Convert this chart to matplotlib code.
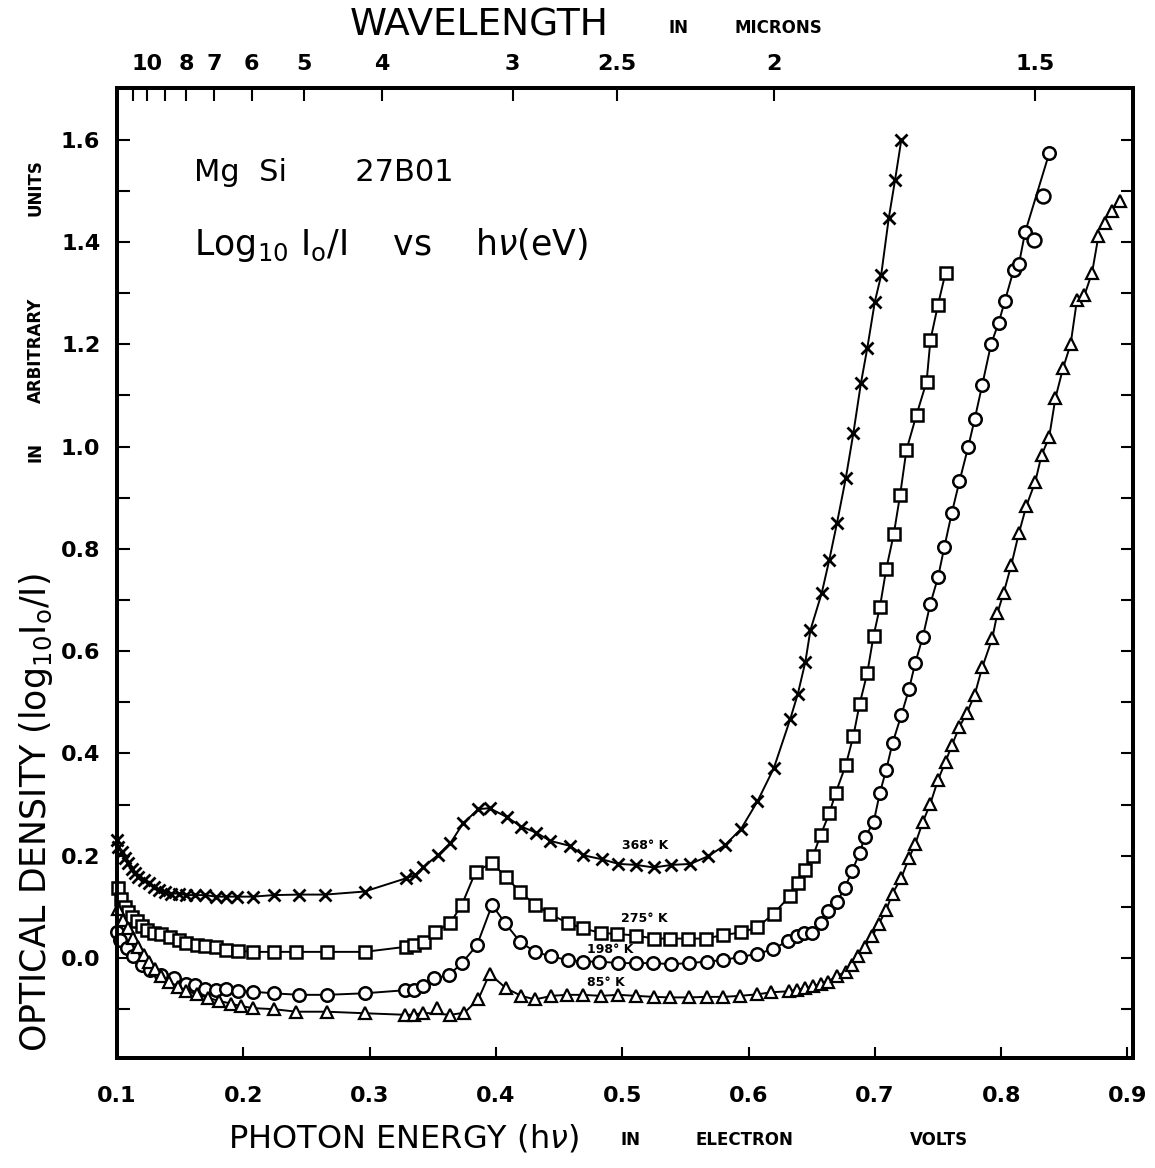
import matplotlib
matplotlib.use("Agg")
import matplotlib.pyplot as plt
import numpy as np

plt.rcParams['font.family'] = ['DejaVu Sans']
plt.rcParams['mathtext.fontset'] = 'dejavusans'

# ---------------- data (photon energy in eV, optical density) ----------------
e368 = [0.100,0.101,0.104,0.106,0.109,0.112,0.114,0.117,0.121,0.125,0.129,0.133,0.138,0.143,0.149,
        0.155,0.162,0.170,0.178,0.186,0.195,0.208,0.224,0.244,0.265,0.296,0.329,0.336,0.342,0.354,
        0.364,0.374,0.386,0.395,0.409,0.420,0.432,0.443,0.459,0.469,0.484,0.497,0.511,0.525,0.539,
        0.554,0.568,0.581,0.594,0.607,0.620,0.633,0.639,0.645,0.649,0.658,0.664,0.670,0.677,0.683,
        0.689,0.694,0.700,0.705,0.711,0.716,0.721]
od368 = [0.231,0.218,0.208,0.195,0.185,0.175,0.166,0.159,0.152,0.146,0.139,0.133,0.130,0.126,0.126,
         0.123,0.123,0.123,0.120,0.120,0.120,0.120,0.123,0.124,0.124,0.130,0.156,0.162,0.177,0.201,
         0.225,0.263,0.291,0.293,0.275,0.257,0.245,0.229,0.219,0.201,0.193,0.184,0.182,0.177,0.182,
         0.184,0.199,0.220,0.252,0.306,0.371,0.467,0.516,0.579,0.641,0.714,0.779,0.850,0.938,1.026,
         1.124,1.192,1.283,1.335,1.446,1.521,1.600]

e275 = [0.101,0.103,0.106,0.109,0.112,0.116,0.120,0.124,0.129,0.135,0.142,0.149,0.155,0.163,0.170,
        0.178,0.186,0.196,0.208,0.224,0.242,0.266,0.296,0.329,0.335,0.343,0.352,0.364,0.373,0.384,
        0.397,0.408,0.419,0.431,0.443,0.457,0.469,0.483,0.496,0.511,0.525,0.538,0.552,0.566,0.580,
        0.594,0.607,0.620,0.633,0.639,0.645,0.651,0.657,0.664,0.669,0.677,0.683,0.688,0.694,0.699,
        0.704,0.709,0.715,0.720,0.725,0.733,0.741,0.744,0.750,0.756]
od275 = [0.136,0.115,0.100,0.090,0.080,0.072,0.062,0.055,0.048,0.047,0.042,0.035,0.029,0.025,0.023,
         0.022,0.016,0.014,0.012,0.012,0.012,0.012,0.012,0.022,0.025,0.032,0.051,0.069,0.104,0.169,
         0.186,0.158,0.130,0.104,0.086,0.068,0.058,0.049,0.047,0.044,0.038,0.038,0.038,0.038,0.045,
         0.050,0.060,0.087,0.122,0.147,0.172,0.199,0.240,0.283,0.323,0.377,0.434,0.497,0.557,0.630,
         0.686,0.760,0.829,0.905,0.993,1.062,1.127,1.208,1.277,1.340]

e198 = [0.100,0.102,0.108,0.113,0.120,0.126,0.135,0.145,0.155,0.162,0.170,0.178,0.186,0.196,0.208,
        0.224,0.244,0.266,0.296,0.328,0.335,0.342,0.351,0.363,0.373,0.385,0.397,0.407,0.419,0.431,
        0.444,0.457,0.469,0.482,0.497,0.511,0.524,0.539,0.553,0.567,0.580,0.593,0.607,0.619,0.631,
        0.638,0.644,0.650,0.657,0.663,0.670,0.676,0.682,0.688,0.692,0.699,0.704,0.709,0.714,0.721,
        0.727,0.732,0.738,0.744,0.750,0.755,0.761,0.767,0.774,0.779,0.785,0.792,0.798,0.803,0.810,
        0.814,0.819,0.838]
od198 = [0.050,0.035,0.019,0.003,-0.014,-0.023,-0.033,-0.040,-0.050,-0.053,-0.060,-0.063,-0.061,-0.064,-0.066,
         -0.069,-0.072,-0.072,-0.069,-0.063,-0.063,-0.055,-0.040,-0.033,-0.010,0.025,0.104,0.069,0.032,0.012,
         0.003,-0.004,-0.007,-0.007,-0.010,-0.010,-0.010,-0.012,-0.010,-0.007,-0.004,0.002,0.008,0.017,0.033,
         0.044,0.048,0.049,0.068,0.091,0.110,0.136,0.170,0.206,0.236,0.265,0.323,0.368,0.420,0.475,
         0.525,0.577,0.628,0.693,0.744,0.803,0.871,0.932,1.000,1.053,1.120,1.200,1.242,1.285,1.346,
         1.356,1.419,1.573]
e198_off = [0.826, 0.833]
od198_off = [1.404, 1.490]

e85 = [0.101,0.105,0.109,0.113,0.117,0.121,0.125,0.130,0.135,0.141,0.148,0.155,0.163,0.172,0.181,
       0.190,0.198,0.208,0.224,0.242,0.266,0.296,0.328,0.335,0.342,0.364,0.375,0.386,0.395,0.408,
       0.420,0.431,0.444,0.456,0.469,0.483,0.497,0.511,0.525,0.538,0.553,0.567,0.580,0.593,0.607,
       0.618,0.632,0.638,0.645,0.651,0.657,0.663,0.670,0.677,0.682,0.687,0.692,0.698,0.703,0.709,
       0.714,0.721,0.727,0.732,0.738,0.744,0.750,0.756,0.761,0.767,0.773,0.779,0.785,0.793,0.797,
       0.802,0.808,0.814,0.820,0.827,0.832,0.838,0.843,0.849,0.855,0.860,0.866,0.872,0.877]
od85 = [0.095,0.075,0.058,0.040,0.022,0.006,-0.008,-0.022,-0.035,-0.047,-0.057,-0.064,-0.071,-0.078,-0.084,
        -0.089,-0.094,-0.098,-0.100,-0.105,-0.105,-0.108,-0.111,-0.111,-0.107,-0.111,-0.107,-0.081,-0.031,-0.059,
        -0.074,-0.081,-0.074,-0.072,-0.072,-0.074,-0.072,-0.074,-0.076,-0.077,-0.077,-0.076,-0.076,-0.074,-0.071,
        -0.067,-0.065,-0.062,-0.059,-0.055,-0.051,-0.046,-0.035,-0.027,-0.014,0.003,0.022,0.043,0.066,0.094,
        0.126,0.157,0.195,0.223,0.266,0.302,0.348,0.384,0.416,0.452,0.480,0.514,0.568,0.625,0.674,
        0.714,0.768,0.830,0.884,0.931,0.983,1.018,1.095,1.153,1.200,1.286,1.296,1.340,1.411]
e85_off = [0.353, 0.882, 0.888, 0.894]
od85_off = [-0.098, 1.437, 1.460, 1.481]

energy_ticks = [0.1, 0.2, 0.3, 0.4, 0.5, 0.6, 0.7, 0.8, 0.9]
energy_labels = ["0.1", "0.2", "0.3", "0.4", "0.5", "0.6", "0.7", "0.8", "0.9"]
od_ticks = [0.0, 0.2, 0.4, 0.6, 0.8, 1.0, 1.2, 1.4, 1.6]
od_labels = ["0.0", "0.2", "0.4", "0.6", "0.8", "1.0", "1.2", "1.4", "1.6"]
wavelengths = [11, 10, 9, 8, 7, 6, 5, 4, 3, 2.5, 2, 1.5]
wl_labels = ["", "10", "", "8", "7", "6", "5", "4", "3", "2.5", "2", "1.5"]
HC = 1.2398  # eV * micron

series_labels = ["368° K", "275° K", "198° K", "85° K"]

# ---------------- figure ----------------
W, H = 1155, 1168
fig = plt.figure(figsize=(W / 100, H / 100), dpi=100)
ax = fig.add_axes([117 / W, 1 - 1058 / H, (1133 - 117) / W, (1058 - 88) / H])
ax.set_xlim(0.1, 0.9044)
ax.set_ylim(-0.1955, 1.701)

lw = 1.4
ax.plot(e368, od368, '-', color='black', lw=lw, marker='x', ms=9, mew=2.0, clip_on=False, zorder=3)
ax.plot(e275, od275, '-', color='black', lw=lw, marker='s', ms=8, mew=1.8, mfc='white', clip_on=False, zorder=3)
ax.plot(e198, od198, '-', color='black', lw=lw, marker='o', ms=9, mew=1.8, mfc='white', clip_on=False, zorder=3)
ax.plot(e198_off, od198_off, 'o', color='black', ms=10, mew=1.8, mfc='white', clip_on=False, zorder=3)
ax.plot(e85, od85, '-', color='black', lw=lw, marker='^', ms=8, mew=1.6, mfc='white', clip_on=False, zorder=3)
ax.plot(e85_off, od85_off, '^', color='black', ms=8, mew=1.6, mfc='white', clip_on=False, zorder=3)

# temperature labels
lab_pos = [(0.500, 0.219), (0.499, 0.078), (0.472, 0.016), (0.472, -0.047)]
for (x, y), t in zip(lab_pos, series_labels):
    ax.text(x, y, t, fontsize=9, fontweight='bold', ha='left', va='center')

# axes styling
for s in ax.spines.values():
    s.set_linewidth(2.8)
ax.set_xticks(energy_ticks)
ax.set_xticklabels(energy_labels)
ax.set_yticks(od_ticks)
ax.set_yticklabels(od_labels)
ax.set_yticks(np.arange(-0.1, 1.65, 0.1), minor=True)
ax.tick_params(axis='both', which='both', direction='in', width=1.5, labelsize=16)
ax.tick_params(axis='x', which='major', length=8, pad=20)
ax.tick_params(axis='y', which='major', length=9, pad=12, right=True)
ax.tick_params(axis='y', which='minor', length=9, right=True)
for lab in ax.get_xticklabels() + ax.get_yticklabels():
    lab.set_fontweight('bold')

# top wavelength axis
ax2 = ax.twiny()
ax2.set_xlim(ax.get_xlim())
ax2.set_xticks([HC / w for w in wavelengths])
ax2.set_xticklabels(wl_labels)
ax2.tick_params(axis='x', direction='in', length=9, width=1.5, labelsize=16, pad=10)
for lab in ax2.get_xticklabels():
    lab.set_fontweight('bold')
for s in ax2.spines.values():
    s.set_linewidth(2.8)

# annotation text in plot
ax.text(0.161, 1.535, "Mg  Si       27B01", fontsize=22, ha='left', va='center')
ax.text(0.161, 1.395, r"Log$_{10}$ I$_{\mathrm{o}}$/I    vs    h$\nu$(eV)", fontsize=25,
        ha='left', va='center')

# axis titles composed of large and small lettering
def fx(px):
    return px / W

def fy(py):
    return 1 - py / H

small = dict(fontsize=12, fontweight='bold')

fig.text(fx(350), fy(26), "WAVELENGTH", ha='left', va='center', fontsize=27)
fig.text(fx(668), fy(28), "IN", ha='left', va='center', **small)
fig.text(fx(735), fy(28), "MICRONS", ha='left', va='center', **small)

fig.text(fx(228), fy(1138), r"PHOTON ENERGY (h$\nu$)", ha='left', va='center', fontsize=23)
fig.text(fx(620), fy(1140), "IN", ha='left', va='center', **small)
fig.text(fx(695), fy(1140), "ELECTRON", ha='left', va='center', **small)
fig.text(fx(910), fy(1140), "VOLTS", ha='left', va='center', **small)

fig.text(fx(36), fy(1052), r"OPTICAL DENSITY (log$_{10}$I$_{\mathrm{o}}$/I)",
         rotation=90, ha='center', va='bottom', fontsize=25)
fig.text(fx(36), fy(452), "IN", rotation=90, ha='center', va='center', **small)
fig.text(fx(36), fy(350), "ARBITRARY", rotation=90, ha='center', va='center', **small)
fig.text(fx(36), fy(188), "UNITS", rotation=90, ha='center', va='center', **small)

fig.savefig("out.png", dpi=100, facecolor='white')
